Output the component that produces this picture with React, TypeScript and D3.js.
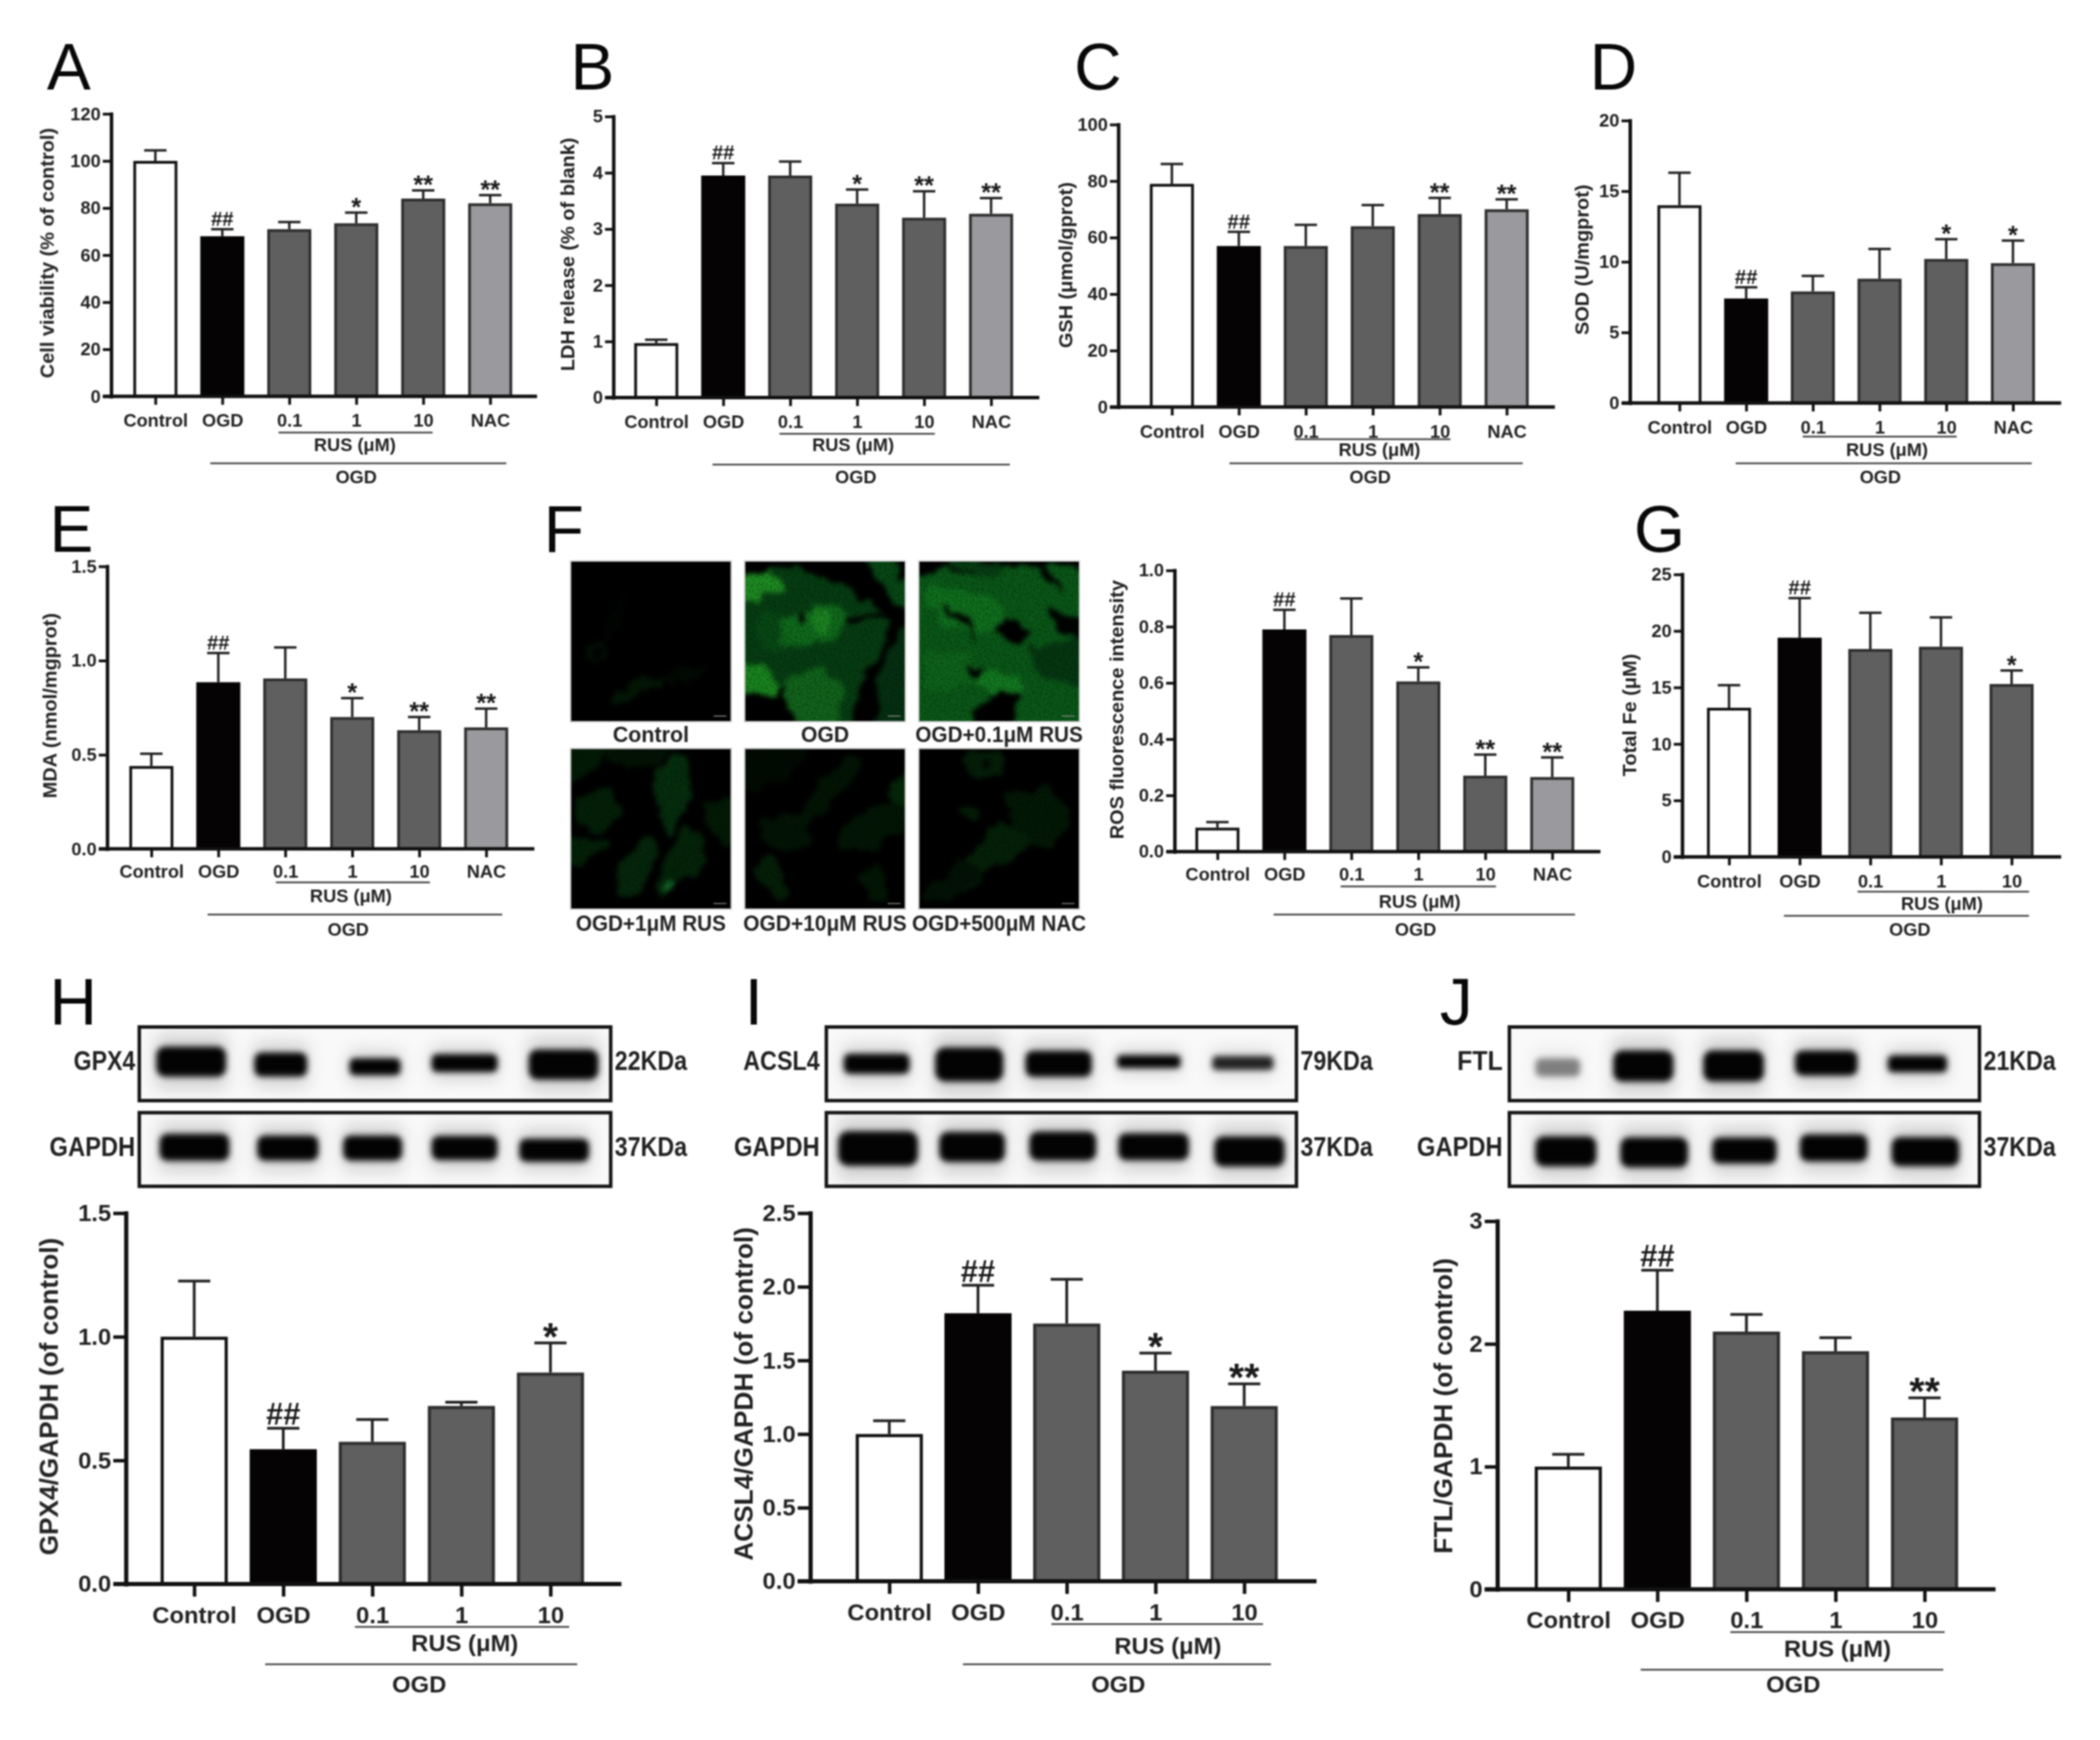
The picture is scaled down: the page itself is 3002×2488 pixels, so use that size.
import React, { useEffect, useRef } from 'react'
import * as d3 from 'd3'

const WIDTH = 3002
const HEIGHT = 2488
const K = WIDTH / 1568
const u = (v: number) => v * K
const FONT = '"Liberation Sans", Arial, sans-serif'

const catsSix = ['Control', 'OGD', '0.1', '1', '10', 'NAC']
const catsFive = ['Control', 'OGD', '0.1', '1', '10']

const viabilityMean = [100, 68, 71, 73.5, 84, 82]
const viabilityTop = [104.5, 71, 74, 78, 87.5, 85.5]
const viabilitySig = ['', '##', '', '*', '**', '**']
const viabilityTicks = [0, 20, 40, 60, 80, 100, 120]

const ldhMean = [0.97, 3.95, 3.95, 3.45, 3.2, 3.27]
const ldhTop = [1.03, 4.17, 4.2, 3.7, 3.67, 3.55]
const ldhSig = ['', '##', '', '*', '**', '**']
const ldhTicks = [0, 1, 2, 3, 4, 5]

const gshMean = [79, 57, 57, 64, 68.3, 70]
const gshTop = [86, 62, 64.5, 71.5, 74, 73.5]
const gshSig = ['', '##', '', '', '**', '**']
const gshTicks = [0, 20, 40, 60, 80, 100]

const sodMean = [14, 7.4, 7.9, 8.8, 10.2, 9.9]
const sodTop = [16.3, 8.2, 9, 10.9, 11.6, 11.5]
const sodSig = ['', '##', '', '', '*', '*']
const sodTicks = [0, 5, 10, 15, 20]

const mdaMean = [0.44, 0.885, 0.905, 0.7, 0.63, 0.645]
const mdaTop = [0.505, 1.04, 1.07, 0.8, 0.7, 0.745]
const mdaSig = ['', '##', '', '*', '**', '**']
const mdaTicks = [0, 0.5, 1, 1.5]

const rosMean = [0.085, 0.79, 0.77, 0.605, 0.27, 0.265]
const rosTop = [0.105, 0.86, 0.9, 0.655, 0.345, 0.335]
const rosSig = ['', '##', '', '*', '**', '**']
const rosTicks = [0, 0.2, 0.4, 0.6, 0.8, 1]

const feMean = [13.2, 19.4, 18.4, 18.6, 15.3]
const feTop = [15.2, 22.9, 21.6, 21.2, 16.5]
const feSig = ['', '##', '', '', '*']
const feTicks = [0, 5, 10, 15, 20, 25]

const gpx4Mean = [1, 0.545, 0.575, 0.72, 0.855]
const gpx4Top = [1.225, 0.63, 0.665, 0.735, 0.975]
const gpx4Sig = ['', '##', '', '', '*']
const gpx4Ticks = [0, 0.5, 1, 1.5]

const acsl4Mean = [1, 1.82, 1.75, 1.43, 1.19]
const acsl4Top = [1.09, 2.01, 2.05, 1.55, 1.34]
const acsl4Sig = ['', '##', '', '*', '**']
const acsl4Ticks = [0, 0.5, 1, 1.5, 2, 2.5]

const ftlMean = [1, 2.27, 2.1, 1.94, 1.4]
const ftlTop = [1.1, 2.6, 2.24, 2.05, 1.56]
const ftlSig = ['', '##', '', '', '**']
const ftlTicks = [0, 1, 2, 3]

const f1 = d3.format('.1f')
const f0 = d3.format('d')

// rus / ogd: line start, line end, line y, text y, text centre
const barPanels = [
  { mean: viabilityMean, top: viabilityTop, sig: viabilitySig, ticks: viabilityTicks, cats: catsSix, fmt: f0, ymax: 120, title: 'Cell viability (% of control)',
    ax: 83, y0: 296, yTop: 85, first: 116, last: 366, end: 401, labelY: 314, rus: [208, 323, 323, 332, 265], ogd: [157, 378, 346, 356, 266], titleX: 36, titleY: 189, big: false },
  { mean: ldhMean, top: ldhTop, sig: ldhSig, ticks: ldhTicks, cats: catsSix, fmt: f0, ymax: 5, title: 'LDH release (% of blank)',
    ax: 458, y0: 297, yTop: 87, first: 490, last: 740, end: 776, labelY: 315, rus: [582, 698, 324, 332, 637], ogd: [532, 754, 347, 356, 639], titleX: 425, titleY: 190, big: false },
  { mean: gshMean, top: gshTop, sig: gshSig, ticks: gshTicks, cats: catsSix, fmt: f0, ymax: 100, title: 'GSH (μmol/gprot)',
    ax: 835, y0: 304, yTop: 93, first: 875, last: 1125, end: 1161, labelY: 322, rus: [967, 1083, 328, 336, 1030], ogd: [918, 1137, 346, 356, 1023], titleX: 797, titleY: 198, big: false },
  { mean: sodMean, top: sodTop, sig: sodSig, ticks: sodTicks, cats: catsSix, fmt: f0, ymax: 20, title: 'SOD (U/mgprot)',
    ax: 1217, y0: 301, yTop: 90, first: 1254, last: 1503, end: 1539, labelY: 319, rus: [1346, 1461, 326, 336, 1409], ogd: [1296, 1517, 346, 356, 1404], titleX: 1182, titleY: 194, big: false },
  { mean: mdaMean, top: mdaTop, sig: mdaSig, ticks: mdaTicks, cats: catsSix, fmt: f1, ymax: 1.5, title: 'MDA (nmol/mgprot)',
    ax: 80, y0: 634, yTop: 423, first: 113, last: 363, end: 399, labelY: 651, rus: [206, 321, 659, 669, 262], ogd: [155, 375, 683, 694, 260], titleX: 38, titleY: 527, big: false },
  { mean: rosMean, top: rosTop, sig: rosSig, ticks: rosTicks, cats: catsSix, fmt: f1, ymax: 1, title: 'ROS fluorescence intensity',
    ax: 877, y0: 636, yTop: 426, first: 909, last: 1159, end: 1195, labelY: 653, rus: [1001, 1117, 662, 673, 1060], ogd: [951, 1176, 683, 694, 1057], titleX: 835, titleY: 530, big: false },
  { mean: feMean, top: feTop, sig: feSig, ticks: feTicks, cats: catsFive, fmt: f0, ymax: 25, title: 'Total Fe (μM)',
    ax: 1256, y0: 640, yTop: 429, first: 1291, last: 1502, end: 1539, labelY: 658, rus: [1387, 1515, 666, 675, 1450], ogd: [1332, 1515, 684, 694, 1426], titleX: 1218, titleY: 534, big: false },
  { mean: gpx4Mean, top: gpx4Top, sig: gpx4Sig, ticks: gpx4Ticks, cats: catsFive, fmt: f1, ymax: 1.5, title: 'GPX4/GAPDH (of control)',
    ax: 94, y0: 1183, yTop: 906, first: 145, last: 411, end: 464, labelY: 1206, rus: [265, 425, 1215, 1227, 347], ogd: [198, 431, 1243, 1258, 313], titleX: 38, titleY: 1043, big: true },
  { mean: acsl4Mean, top: acsl4Top, sig: acsl4Sig, ticks: acsl4Ticks, cats: catsFive, fmt: f1, ymax: 2.5, title: 'ACSL4/GAPDH (of control)',
    ax: 605, y0: 1181, yTop: 906, first: 664, last: 929, end: 983, labelY: 1204, rus: [785, 943, 1213, 1229, 872], ogd: [719, 949, 1243, 1258, 835], titleX: 557, titleY: 1041, big: true },
  { mean: ftlMean, top: ftlTop, sig: ftlSig, ticks: ftlTicks, cats: catsFive, fmt: f0, ymax: 3, title: 'FTL/GAPDH (of control)',
    ax: 1118, y0: 1187, yTop: 912, first: 1171, last: 1437, end: 1490, labelY: 1210, rus: [1292, 1452, 1219, 1231, 1372], ogd: [1225, 1451, 1247, 1258, 1339], titleX: 1079, titleY: 1050, big: true },
]

const panelLetters = [
  ['A', 35, 67], ['B', 426, 67], ['C', 802, 67], ['D', 1187, 67], ['E', 37, 412],
  ['F', 406, 412], ['G', 1220, 412], ['H', 37, 765], ['I', 556, 765], ['J', 1075, 765],
]

// western blot bands, per lane: centre x, centre y, width, height (fractions of the strip), darkness
const gpx4Bands = [[0.11, 0.47, 0.148, 0.3, 1], [0.3, 0.51, 0.112, 0.24, 1], [0.5, 0.54, 0.108, 0.17, 1], [0.69, 0.49, 0.14, 0.18, 1], [0.9, 0.51, 0.148, 0.3, 1]]
const gapdhBandsH = [[0.117, 0.47, 0.148, 0.27, 1], [0.315, 0.48, 0.13, 0.25, 1], [0.495, 0.48, 0.125, 0.25, 1], [0.69, 0.48, 0.14, 0.24, 1], [0.88, 0.51, 0.148, 0.23, 1]]
const acsl4Bands = [[0.107, 0.5, 0.14, 0.2, 1], [0.304, 0.51, 0.145, 0.34, 1], [0.494, 0.5, 0.141, 0.26, 1], [0.686, 0.47, 0.135, 0.13, 1], [0.886, 0.49, 0.13, 0.14, 0.85]]
const gapdhBandsI = [[0.11, 0.487, 0.17, 0.345, 1], [0.31, 0.465, 0.14, 0.3, 1], [0.503, 0.453, 0.142, 0.29, 1], [0.696, 0.463, 0.15, 0.27, 1], [0.9, 0.527, 0.15, 0.3, 1]]
const ftlBands = [[0.103, 0.55, 0.095, 0.18, 0.45], [0.285, 0.53, 0.128, 0.31, 1], [0.477, 0.53, 0.129, 0.31, 1], [0.674, 0.49, 0.133, 0.25, 1], [0.868, 0.5, 0.126, 0.17, 1]]
const gapdhBandsJ = [[0.12, 0.525, 0.13, 0.3, 1], [0.308, 0.54, 0.144, 0.3, 1], [0.5, 0.515, 0.137, 0.26, 1], [0.69, 0.478, 0.144, 0.27, 1], [0.885, 0.53, 0.144, 0.29, 1]]

const blots = [
  { x: 104, w: 352, y: 767, bands: gpx4Bands, name: 'GPX4', kda: '22KDa', nameW: 46, gap: 3 },
  { x: 104, w: 352, y: 831, bands: gapdhBandsH, name: 'GAPDH', kda: '37KDa', nameW: 64, gap: 3 },
  { x: 617, w: 351, y: 767, bands: acsl4Bands, name: 'ACSL4', kda: '79KDa', nameW: 57, gap: 5 },
  { x: 617, w: 351, y: 831, bands: gapdhBandsI, name: 'GAPDH', kda: '37KDa', nameW: 64, gap: 5 },
  { x: 1127, w: 351, y: 767, bands: ftlBands, name: 'FTL', kda: '21KDa', nameW: 34, gap: 5 },
  { x: 1127, w: 351, y: 831, bands: gapdhBandsJ, name: 'GAPDH', kda: '37KDa', nameW: 64, gap: 5 },
]

// fluorescence micrographs: cell outlines as fractions of the image, with the green they glow in
type Cell = { c: string; p: number[][] }
const cellsControl: Cell[] = [
  { c: '#0a2a10', p: [[0.12, 0.5], [0.2, 0.47], [0.23, 0.55], [0.18, 0.65], [0.12, 0.62]] },
  { c: '#020703', p: [[0.14, 0.53], [0.19, 0.5], [0.2, 0.57], [0.16, 0.62]] },
  { c: '#0d3413', p: [[0.25, 0.87], [0.4, 0.76], [0.6, 0.7], [0.5, 0.8], [0.3, 0.9]] },
  { c: '#071c0a', p: [[0.6, 0.72], [0.85, 0.65], [0.78, 0.73], [0.62, 0.77]] },
  { c: '#051307', p: [[0.2, 0.4], [0.35, 0.2], [0.3, 0.4], [0.22, 0.48]] },
]
const cellsOgd: Cell[] = [
  { c: '#14642c', p: [[-0.05, 0.08], [0.3, 0.04], [0.6, 0.14], [0.75, 0.25], [0.92, 0.35], [0.85, 0.55], [0.75, 0.7], [0.68, 1.05], [0.45, 1.05], [0.3, 0.92], [0.25, 0.8], [-0.05, 0.72]] },
  { c: '#177030', p: [[0.1, 0.3], [0.3, 0.35], [0.25, 0.55], [0.1, 0.5]] },
  { c: '#3cb043', p: [[-0.05, 0.08], [0.15, 0.06], [0.23, 0.15], [0.2, 0.2], [0.1, 0.22], [-0.05, 0.25]] },
  { c: '#26923a', p: [[0.22, 0.36], [0.42, 0.3], [0.6, 0.27], [0.65, 0.36], [0.5, 0.5], [0.35, 0.55], [0.22, 0.48]] },
  { c: '#3aaa42', p: [[0.42, 0.33], [0.54, 0.33], [0.52, 0.45], [0.44, 0.42]] },
  { c: '#35aa3e', p: [[-0.05, 0.62], [0.08, 0.66], [0.2, 0.8], [-0.05, 0.85]] },
  { c: '#2a8c3a', p: [[0.27, 0.72], [0.5, 0.66], [0.6, 0.78], [0.55, 1.05], [0.35, 1.05], [0.26, 0.85]] },
  { c: '#177030', p: [[0.74, -0.05], [0.88, -0.05], [1.05, 0.2], [1, 0.3], [0.85, 0.17]] },
  { c: '#12552a', p: [[0.85, 0.65], [1.05, 0.42], [1.05, 1.05], [0.78, 1.05]] },
  { c: '#020702', p: [[0.72, 1.05], [0.78, 0.7], [0.95, 0.42], [0.97, 0.45], [0.83, 0.72], [0.8, 1.05]] },
  { c: '#020502', p: [[0.64, 0.34], [0.88, 0.32], [0.9, 0.35], [0.66, 0.37]] },
  { c: '#020502', p: [[-0.05, 0.85], [0.22, 0.85], [0.3, 1.05], [-0.05, 1.05]] },
  { c: '#020502', p: [[-0.05, -0.05], [0.5, -0.05], [0.3, 0.05], [-0.05, 0.06]] },
  { c: '#020502', p: [[0.34, 0.32], [0.37, 0.3], [0.37, 0.38], [0.35, 0.38]] },
]
const cellsLow: Cell[] = [
  { c: '#1d8034', p: [[-0.05, 0.05], [0.3, 0.1], [0.55, 0.05], [1.05, 0.1], [1.05, 1.05], [-0.05, 1.05]] },
  { c: '#26963c', p: [[0.05, 0.15], [0.3, 0.2], [0.55, 0.3], [0.45, 0.45], [0.15, 0.4]] },
  { c: '#2ca040', p: [[0.35, 0.72], [0.55, 0.68], [0.65, 0.78], [0.45, 0.86]] },
  { c: '#238c38', p: [[0.05, 0.55], [0.3, 0.58], [0.35, 0.75], [0.05, 0.8]] },
  { c: '#14642c', p: [[0.2, -0.02], [0.5, 0.02], [0.45, 0.1], [0.2, 0.06]] },
  { c: '#135c2a', p: [[0.7, 0.55], [1.05, 0.5], [1.05, 0.75], [0.75, 0.72]] },
  { c: '#020502', p: [[0.35, 0.95], [0.45, 0.85], [0.62, 0.82], [0.56, 1.05], [0.35, 1.05]] },
  { c: '#020502', p: [[0.5, 0.38], [0.62, 0.38], [0.72, 0.48], [0.58, 0.5]] },
  { c: '#030a04', p: [[0.12, 0.28], [0.3, 0.32], [0.36, 0.52], [0.3, 0.4]] },
  { c: '#020502', p: [[-0.05, -0.05], [0.26, -0.05], [0.08, 0.06], [-0.05, 0.08]] },
  { c: '#020502', p: [[0.75, 0.02], [0.86, 0.12], [0.88, 0.2], [0.78, 0.1]] },
  { c: '#020502', p: [[0.32, 0.65], [0.42, 0.68], [0.34, 0.72]] },
  { c: '#030e05', p: [[0.8, 0.28], [1.05, 0.36], [1.05, 0.5], [0.86, 0.42]] },
]
const cellsOne: Cell[] = [
  { c: '#0b3a15', p: [[-0.05, -0.05], [0.3, -0.05], [0.18, 0.1], [0.05, 0.2], [-0.05, 0.25]] },
  { c: '#0d4019', p: [[0.05, 0.3], [0.25, 0.25], [0.32, 0.4], [0.2, 0.5], [0.05, 0.48]] },
  { c: '#135124', p: [[0.52, 0.12], [0.7, 0.05], [0.75, 0.2], [0.7, 0.4], [0.62, 0.55], [0.55, 0.35]] },
  { c: '#11491f', p: [[0.3, 0.72], [0.48, 0.55], [0.55, 0.65], [0.42, 0.9], [0.33, 0.92]] },
  { c: '#0e4219', p: [[-0.05, 0.55], [0.2, 0.55], [0.22, 0.65], [-0.05, 0.72]] },
  { c: '#0f451b', p: [[0.55, 0.75], [0.75, 0.5], [0.85, 0.72], [0.72, 0.8], [0.55, 0.95]] },
  { c: '#0c3814', p: [[0.82, 0.35], [1.05, 0.3], [1.05, 0.6], [0.9, 0.55]] },
  { c: '#2a8d48', p: [[0.57, 0.82], [0.62, 0.81], [0.63, 0.88], [0.57, 0.88]] },
  { c: '#0a2d10', p: [[0.2, 0.02], [0.65, -0.02], [0.5, 0.1], [0.3, 0.12]] },
]
const cellsTen: Cell[] = [
  { c: '#0a2e10', p: [[0.4, 0.3], [0.6, 0.08], [0.72, 0.1], [0.55, 0.35], [0.35, 0.5]] },
  { c: '#0a3111', p: [[0.58, 0.52], [0.85, 0.35], [1.05, 0.3], [1.05, 0.45], [0.75, 0.65], [0.6, 0.62]] },
  { c: '#0f4a1a', p: [[0.9, 0.2], [1.05, 0.15], [1.05, 0.35], [0.94, 0.3]] },
  { c: '#103f18', p: [[0.05, 0.72], [0.18, 0.7], [0.3, 0.92], [0.2, 0.95]] },
  { c: '#0b3312', p: [[0.72, 0.78], [0.85, 0.72], [0.88, 0.92], [0.78, 0.92]] },
  { c: '#0a2f11', p: [[0.1, 0.45], [0.35, 0.42], [0.4, 0.6], [0.2, 0.65]] },
  { c: '#071f0b', p: [[-0.05, 0.02], [0.4, -0.02], [0.25, 0.2], [-0.05, 0.25]] },
]
const cellsNac: Cell[] = [
  { c: '#103f1a', p: [[0.32, 0.02], [0.5, 0.02], [0.52, 0.15], [0.4, 0.2], [0.3, 0.14]] },
  { c: '#06150a', p: [[0.4, 0.07], [0.45, 0.07], [0.45, 0.12], [0.41, 0.12]] },
  { c: '#0d3515', p: [[0.55, 0.28], [0.82, 0.25], [0.98, 0.4], [0.85, 0.58], [0.65, 0.6]] },
  { c: '#0f4119', p: [[0.2, 0.85], [0.5, 0.45], [0.62, 0.5], [0.7, 0.62], [0.5, 0.72], [0.3, 0.9]] },
  { c: '#0e3d17', p: [[0.25, 0.36], [0.38, 0.38], [0.36, 0.46], [0.26, 0.42]] },
  { c: '#0a2c11', p: [[0.05, 0.92], [0.25, 0.7], [0.4, 0.78], [0.2, 0.95]] },
]
const micrographs = [
  { x: 426, y: 419, cells: cellsControl, label: 'Control', labelW: 57, labelY: 548 },
  { x: 556, y: 419, cells: cellsOgd, label: 'OGD', labelW: 36, labelY: 548 },
  { x: 686, y: 419, cells: cellsLow, label: 'OGD+0.1μM RUS', labelW: 125, labelY: 548 },
  { x: 426, y: 559, cells: cellsOne, label: 'OGD+1μM RUS', labelW: 112, labelY: 689 },
  { x: 556, y: 559, cells: cellsTen, label: 'OGD+10μM RUS', labelW: 122, labelY: 689 },
  { x: 686, y: 559, cells: cellsNac, label: 'OGD+500μM NAC', labelW: 130, labelY: 689 },
]
const MICRO = 120

function drawBarPanel(root: any, p: any) {
  const axisW = p.big ? 6 : 5
  const barW = p.big ? 4.5 : 4
  const barOuter = p.big ? 96 : 63
  const capW = p.big ? 46 : 32
  const tickLen = p.big ? 18 : 12
  const labelSize = p.big ? 34 : 26

  const y = d3.scaleLinear().domain([0, p.ymax]).range([u(p.y0), u(p.yTop)])
  const x = d3.scalePoint<string>().domain(p.cats).range([u(p.first), u(p.last)])
  const g = root.append('g').attr('font-family', FONT)
  const fillFor = (i: number) => (i === 0 ? '#fff' : i === 1 ? '#050303' : i === 5 ? '#9a9a9e' : '#5f5f5f')
  const strokeFor = (i: number) => (i === 0 ? '#111' : i === 1 ? '#050303' : '#2e2e2e')

  // error bars sit behind the bars, upper arm only
  const err = g.selectAll('.err').data(p.cats).enter().append('g').attr('stroke', '#222').attr('stroke-width', p.big ? 4 : 3.5)
  err.append('line')
    .attr('x1', (d: string) => x(d)).attr('x2', (d: string) => x(d))
    .attr('y1', (_: string, i: number) => y(p.mean[i])).attr('y2', (_: string, i: number) => y(p.top[i]))
  err.append('line')
    .attr('x1', (d: string) => x(d)! - capW / 2).attr('x2', (d: string) => x(d)! + capW / 2)
    .attr('y1', (_: string, i: number) => y(p.top[i])).attr('y2', (_: string, i: number) => y(p.top[i]))

  g.selectAll('.bar').data(p.cats).enter().append('rect')
    .attr('x', (d: string) => x(d)! - barOuter / 2 + barW / 2)
    .attr('y', (_: string, i: number) => y(p.mean[i]) + barW / 2)
    .attr('width', barOuter - barW)
    .attr('height', (_: string, i: number) => y(0) - y(p.mean[i]) - barW / 2)
    .attr('fill', (_: string, i: number) => fillFor(i))
    .attr('stroke', (_: string, i: number) => strokeFor(i))
    .attr('stroke-width', barW)

  // significance marks above the caps
  const hashSize = p.big ? 44 : 29
  const starSize = p.big ? 56 : 36
  g.selectAll('.sig').data(p.cats).enter().append('text')
    .attr('x', (d: string) => x(d))
    .attr('y', (_: string, i: number) => {
      const cap = y(p.top[i])
      return p.sig[i].startsWith('#') ? cap - 5 : cap - 3 + 0.22 * starSize
    })
    .attr('text-anchor', 'middle')
    .attr('font-size', (_: string, i: number) => (p.sig[i].startsWith('#') ? hashSize : starSize))
    .attr('font-weight', 'bold')
    .attr('fill', '#1a1a1a')
    .text((_: string, i: number) => p.sig[i])

  const yAxis = d3.axisLeft(y).tickValues(p.ticks).tickFormat(p.fmt).tickSize(tickLen).tickSizeOuter(0).tickPadding(3)
  const ya = g.append('g').attr('transform', `translate(${u(p.ax)},0)`).call(yAxis)
  ya.select('.domain').attr('stroke', '#111').attr('stroke-width', axisW).attr('stroke-linecap', 'square')
  ya.selectAll('.tick line').attr('stroke', '#111').attr('stroke-width', axisW - 1)
  ya.selectAll('.tick text').attr('font-size', labelSize).attr('font-weight', 'bold').attr('font-family', FONT).attr('fill', '#222')

  const xAxis = d3.axisBottom(x).tickSize(tickLen).tickSizeOuter(0)
  const xa = g.append('g').attr('transform', `translate(0,${y(0)})`).call(xAxis)
  xa.select('.domain').remove()
  xa.selectAll('.tick line').attr('stroke', '#111').attr('stroke-width', axisW - 1)
  xa.selectAll('.tick text')
    .attr('y', u(p.labelY - p.y0)).attr('dy', '.35em')
    .attr('font-size', labelSize).attr('font-weight', 'bold').attr('font-family', FONT).attr('fill', '#222')
  g.append('line')
    .attr('x1', u(p.ax) - tickLen).attr('x2', u(p.end))
    .attr('y1', y(0)).attr('y2', y(0))
    .attr('stroke', '#111').attr('stroke-width', axisW)

  g.append('text')
    .attr('transform', `translate(${u(p.titleX)},${u(p.titleY)}) rotate(-90)`)
    .attr('text-anchor', 'middle').attr('dominant-baseline', 'middle')
    .attr('font-size', p.big ? 37.5 : 28.5).attr('font-weight', 'bold').attr('fill', '#222')
    .text(p.title)

  // RUS and OGD group brackets
  const [rx1, rx2, ry, rt, rc] = p.rus
  const [ox1, ox2, oy, ot, oc] = p.ogd
  g.append('line').attr('x1', u(rx1)).attr('x2', u(rx2)).attr('y1', u(ry)).attr('y2', u(ry)).attr('stroke', '#444').attr('stroke-width', 2.5)
  g.append('line').attr('x1', u(ox1)).attr('x2', u(ox2)).attr('y1', u(oy)).attr('y2', u(oy)).attr('stroke', '#444').attr('stroke-width', 2.5)
  g.append('text').attr('x', u(rc)).attr('y', u(rt)).attr('dy', '.35em').attr('text-anchor', 'middle')
    .attr('font-size', labelSize).attr('font-weight', 'bold').attr('fill', '#222').text('RUS (μM)')
  g.append('text').attr('x', u(oc)).attr('y', u(ot)).attr('dy', '.35em').attr('text-anchor', 'middle')
    .attr('font-size', labelSize).attr('font-weight', 'bold').attr('fill', '#222').text('OGD')
}

function drawBlot(root: any, b: any) {
  const w = u(b.w)
  const h = u(55)
  const g = root.append('g').attr('transform', `translate(${u(b.x)},${u(b.y)})`)
  const clipId = `clip-${b.x}-${b.y}`
  g.append('clipPath').attr('id', clipId).append('rect').attr('width', w).attr('height', h)
  g.append('rect').attr('width', w).attr('height', h).attr('fill', '#f9f9f9')
  const inner = g.append('g').attr('clip-path', `url(#${clipId})`)
  // smear around each band
  inner.selectAll('.halo').data(b.bands).enter().append('rect')
    .attr('x', (d: number[]) => (d[0] - d[2] * 0.5) * w)
    .attr('y', (d: number[]) => (d[1] - d[3] * 1.2) * h)
    .attr('width', (d: number[]) => d[2] * w)
    .attr('height', (d: number[]) => d[3] * 2.4 * h)
    .attr('fill', '#777').attr('opacity', (d: number[]) => 0.32 * d[4])
    .attr('filter', 'url(#blurWide)')
  inner.selectAll('.band').data(b.bands).enter().append('rect')
    .attr('x', (d: number[]) => (d[0] - d[2] / 2) * w)
    .attr('y', (d: number[]) => (d[1] - d[3] * 0.68) * h)
    .attr('width', (d: number[]) => d[2] * w)
    .attr('height', (d: number[]) => d[3] * 1.36 * h)
    .attr('rx', (d: number[]) => d[3] * h * 0.4)
    .attr('fill', '#040303').attr('opacity', (d: number[]) => d[4])
    .attr('filter', 'url(#blurBand)')
  g.append('rect').attr('width', w).attr('height', h).attr('fill', 'none').attr('stroke', '#161616').attr('stroke-width', 5)

  g.append('text').attr('x', -u(b.gap)).attr('y', h / 2 - u(2.5)).attr('dy', '.36em').attr('text-anchor', 'end')
    .attr('font-family', FONT).attr('font-size', 38).attr('font-weight', 'bold').attr('fill', '#222')
    .attr('textLength', u(b.nameW)).attr('lengthAdjust', 'spacingAndGlyphs').text(b.name)
  g.append('text').attr('x', w + u(3)).attr('y', h / 2 - u(2.5)).attr('dy', '.36em')
    .attr('font-family', FONT).attr('font-size', 38).attr('font-weight', 'bold').attr('fill', '#222')
    .attr('textLength', u(54)).attr('lengthAdjust', 'spacingAndGlyphs').text(b.kda)
}

function drawMicrograph(root: any, m: any, i: number) {
  const s = u(MICRO)
  const g = root.append('g').attr('transform', `translate(${u(m.x)},${u(m.y)})`)
  const clipId = `micro-${i}`
  g.append('clipPath').attr('id', clipId).append('rect').attr('width', s).attr('height', s)
  const inner = g.append('g').attr('clip-path', `url(#${clipId})`)
  const shape = d3.line().x((d: any) => d[0] * s).y((d: any) => d[1] * s).curve(d3.curveCardinalClosed.tension(0.4))
  const glow = inner.append('g').attr('filter', 'url(#roughCell)')
  glow.append('rect').attr('x', -20).attr('y', -20).attr('width', s + 40).attr('height', s + 40).attr('fill', '#020502')
  glow.selectAll('.cell').data(m.cells).enter().append('path')
    .attr('d', (d: Cell) => shape(d.p as any))
    .attr('fill', (d: Cell) => d.c)
  inner.append('rect').attr('width', s).attr('height', s).attr('filter', 'url(#speckle)')
  // scale bar
  g.append('line').attr('x1', s * 0.89).attr('x2', s * 0.97).attr('y1', s * 0.965).attr('y2', s * 0.965).attr('stroke', '#888').attr('stroke-width', 1.5)
  g.append('rect').attr('width', s).attr('height', s).attr('fill', 'none').attr('stroke', '#ccc').attr('stroke-width', 2)
  g.append('text').attr('x', s / 2).attr('y', u(m.labelY - m.y)).attr('dy', '.36em').attr('text-anchor', 'middle')
    .attr('font-family', FONT).attr('font-size', 32).attr('font-weight', 'bold').attr('fill', '#222')
    .attr('textLength', u(m.labelW)).attr('lengthAdjust', 'spacingAndGlyphs').text(m.label)
}

const App = () => {
  const rootRef = useRef<SVGGElement>(null)

  useEffect(() => {
    const root = d3.select(rootRef.current)
    root.selectAll('*').remove()

    root.selectAll('.letter').data(panelLetters).enter().append('text')
      .attr('x', (d: any) => u(d[1]))
      .attr('y', (d: any) => u(d[2]))
      .attr('font-family', FONT).attr('font-size', 94).attr('fill', '#080808')
      .text((d: any) => d[0])

    micrographs.forEach((m, i) => drawMicrograph(root, m, i))
    blots.forEach(b => drawBlot(root, b))
    barPanels.forEach(p => drawBarPanel(root, p))
  }, [])

  return (
    <svg width={WIDTH} height={HEIGHT} style={{ position: 'absolute', left: 0, top: 0, background: '#fff' }}>
      <defs>
        <filter id="soften" filterUnits="userSpaceOnUse" x="0" y="0" width={WIDTH} height={HEIGHT} colorInterpolationFilters="sRGB">
          <feGaussianBlur stdDeviation="0.9" />
        </filter>
        <filter id="blurBand" x="-30%" y="-60%" width="160%" height="220%" colorInterpolationFilters="sRGB">
          <feGaussianBlur stdDeviation="4.5" />
        </filter>
        <filter id="blurWide" x="-40%" y="-60%" width="180%" height="220%" colorInterpolationFilters="sRGB">
          <feGaussianBlur stdDeviation="12" />
        </filter>
        {/* the displacement step comes out too bright in the browser, the gamma step takes that back */}
        <filter id="roughCell" x="-5%" y="-5%" width="110%" height="110%" colorInterpolationFilters="sRGB">
          <feTurbulence type="fractalNoise" baseFrequency="0.035" numOctaves="3" seed="7" result="wobble" />
          <feDisplacementMap in="SourceGraphic" in2="wobble" scale="30" xChannelSelector="R" yChannelSelector="G" />
          <feComponentTransfer>
            <feFuncR type="gamma" exponent="1.45" />
            <feFuncG type="gamma" exponent="1.45" />
            <feFuncB type="gamma" exponent="1.45" />
          </feComponentTransfer>
          <feGaussianBlur stdDeviation="3" />
        </filter>
        <filter id="speckle" x="0" y="0" width="100%" height="100%" colorInterpolationFilters="sRGB">
          <feTurbulence type="fractalNoise" baseFrequency="0.45" numOctaves="2" seed="4" />
          <feColorMatrix type="matrix" values="0 0 0 0 0  0 0 0 0 0  0 0 0 0 0  1.1 0 0 0 -0.42" />
        </filter>
      </defs>
      <g ref={rootRef} filter="url(#soften)" />
    </svg>
  )
}

export default App
